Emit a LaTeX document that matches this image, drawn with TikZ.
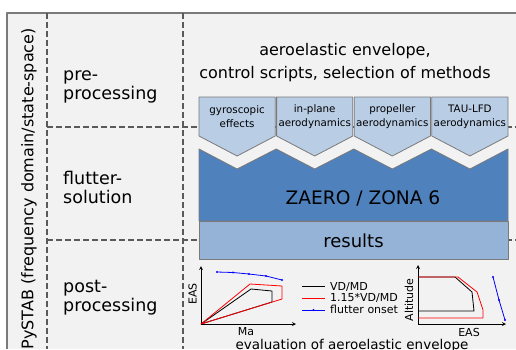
\documentclass[tikz,border=0pt]{standalone}
\usepackage{fontspec}
\setmainfont{DejaVu Sans}
\usetikzlibrary{positioning}
\definecolor{panelgray}{HTML}{F2F2F2}
\definecolor{framegray}{HTML}{7A7A7A}
\definecolor{dashgray}{HTML}{5A5A5A}
\definecolor{chevblue}{HTML}{B9CDE5}
\definecolor{solverblue}{HTML}{4F81BD}
\definecolor{resblue}{HTML}{95B3D7}
\begin{document}
\begin{tikzpicture}[x=1pt, y=-1pt, line join=round, >=stealth,
	dashsep/.style={dashgray, line width=1.6pt, dash pattern=on 6pt off 3pt},
	chevron/.style={draw=framegray, fill=chevblue, line width=0.8pt},
	band/.style={draw=framegray, line width=0.8pt},
	phase/.style={inner sep=0, align=left, font=\fontsize{17.5}{19}\selectfont},
	chevlabel/.style={inner sep=0, align=center, font=\fontsize{10.3}{14}\selectfont},
	axlabel/.style={inner sep=0, font=\fontsize{11}{13}\selectfont},
	curve/.style={line width=0.8pt},
	onset/.style={curve, blue}]
	\useasboundingbox (0,0) rectangle (516,349);
	\def \cw{76.2} % Breite der Pfeile
	\def \cs{77.6}
	% Rahmen und Trennlinien
	\fill[panelgray] (7,13) rectangle (516,349);
	\draw[framegray, line width=1.3pt] (516,13) -- (7,13) -- (7,349);
	\draw[dashsep] (47,13) -- (47,349) (183,13) -- (183,349);
	\draw[dashsep] (47,127) -- (516,127) (47,240) -- (516,240);
	\node[rotate=90, anchor=east, inner sep=0, font=\fontsize{16}{18}\selectfont] (pystab) at (29,28) {PySTAB (frequency domain/state-space)};
	\node[phase, anchor=west] (pre) at (63,86.5) {pre-\\processing};
	\node[phase, anchor=west] (flutter) at (63,187) {flutter-\\solution};
	\node[phase, anchor=west] (post) at (63,297.5) {post-\\processing};
	\node[align=center, inner sep=0, font=\fontsize{16}{23}\selectfont] (input) at (345,62.3) {aeroelastic envelope,\\control scripts, selection of methods};
	% Pfeile
	\foreach \i/\txt in {0/{gyroscopic\\effects}, 1/{in-plane\\aerodynamics}, 2/{propeller\\aerodynamics}, 3/{TAU-LFD\\aerodynamics}} {
		\pgfmathsetmacro \xl{199+\cs*\i}
		\draw[chevron] (\xl,97) -- ++(\cw,0) -- ++(0,39) -- ++(-\cw/2,20) -- ++(-\cw/2,-20) -- cycle;
		\node[chevlabel] (chev\i) at (\xl+\cw/2,117) {\txt};
	}
	\draw[band, fill=solverblue] (199,149) -- (237.1,169) -- (276.2,149) -- (314.7,169) -- (353.8,149)
		-- (392.3,169) -- (431.4,149) -- (469.9,169) -- (508,149) -- (508,221) -- (199,221) -- cycle;
	\node[anchor=base, inner sep=0, font=\fontsize{18.6}{20}\selectfont] (zaero) at (363,204) {ZAERO / ZONA 6};
	\draw[band, fill=resblue] (199,221) rectangle (508,259);
	\node[anchor=base, inner sep=0, font=\fontsize{18}{20}\selectfont] (results) at (353.5,247) {results};
	% Diagramm links: EAS über Ma
	\coordinate (O1) at (201,324);
	\coordinate (Y1) at (201,266);
	\coordinate (X1) at (296,324);
	\draw[curve, ->] (O1) -- (Y1);
	\draw[curve, ->] (O1) -- (X1);
	\node[axlabel, rotate=90] (eas1) at (192.5,294) {EAS};
	\node[axlabel] (ma) at (246,332) {Ma};
	\draw[curve] (O1) -- (251,289) -- (272,291) -- (272,302) -- cycle;
	\draw[curve, red] (O1) -- (250,284) -- (282,286) -- (282,299) -- cycle;
	\draw[onset] (217,272) -- (233,272.5) -- (249,274) -- (266,276) -- (282,280);
	\foreach \p in {(217,272),(233,272.5),(249,274),(266,276),(282,280)} \fill[blue] \p circle(1.2pt);
	% Legende
	\draw[curve] (302,286.7) -- (325,286.7);
	\draw[curve, red] (302,298.3) -- (325,298.3);
	\draw[onset] (302,310) -- (325,310);
	\fill[blue] (313.5,310) circle(1.2pt);
	\node[axlabel, anchor=base west] (leg1) at (330,290.2) {VD/MD};
	\node[axlabel, anchor=base west] (leg2) at (330,301.8) {1.15*VD/MD};
	\node[axlabel, anchor=base west] (leg3) at (330,313.4) {flutter onset};
	% Diagramm rechts: Altitude über EAS
	\coordinate (O2) at (418,324);
	\coordinate (Y2) at (418,265);
	\coordinate (X2) at (506,324);
	\draw[curve, ->] (O2) -- (Y2);
	\draw[curve, ->] (O2) -- (X2);
	\node[axlabel, rotate=90] (alt) at (409,300) {Altitude};
	\node[axlabel] (eas2) at (469,332) {EAS};
	\draw[curve] (O2 |- 0,277) -- (455,277) -- (472,292) -- (474,311) -- (O2 |- 0,311);
	\draw[curve, red] (O2 |- 0,277) -- (458,277) -- (477,292) -- (483,310) -- (483,318) -- (O2 |- 0,318);
	\draw[onset] (493,277) -- (499,300) -- (505,320);
	\foreach \p in {(493,277),(499,300),(505,320)} \fill[blue] \p circle(1.2pt);
	\node[anchor=base, inner sep=0, font=\fontsize{13.5}{15}\selectfont] (evalenv) at (352,349) {evaluation of aeroelastic envelope};
\end{tikzpicture}
\end{document}
